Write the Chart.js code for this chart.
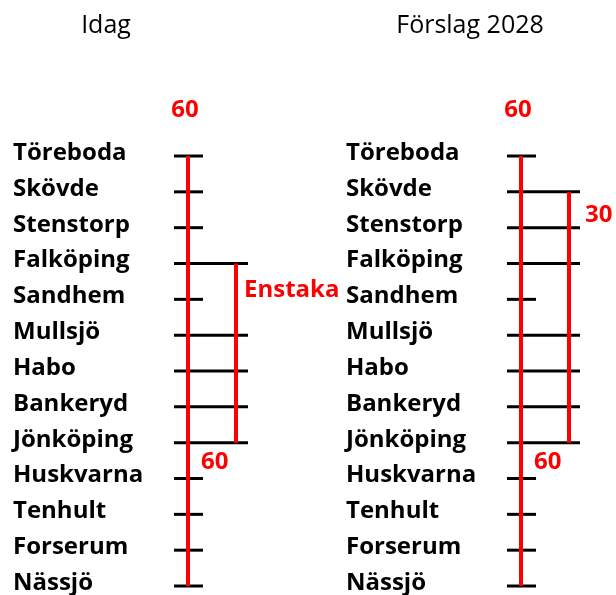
<!DOCTYPE html>
<html>
<head>
<meta charset="utf-8">
<script src="https://cdn.jsdelivr.net/npm/chart.js@4/dist/chart.umd.min.js"></script>
<style>
  html, body { margin: 0; padding: 0; background: #fff; }
  canvas { display: block; }
</style>
</head>
<body>
<canvas id="lineChart" width="616" height="595"></canvas>
<script>
// Stationer längs banan (uppifrån och ned)
const STATIONS = ['Töreboda', 'Skövde', 'Stenstorp', 'Falköping', 'Sandhem', 'Mullsjö', 'Habo',
  'Bankeryd', 'Jönköping', 'Huskvarna', 'Tenhult', 'Forserum', 'Nässjö'];

// Panelrubriker
const PANEL_TITLES = ['Idag', 'Förslag 2028'];

// Grundtrafik (hela sträckan) och extratrafik per panel
const BASE_FREQ = ['60', '60'];
const EXTRA_FREQ = ['Enstaka', '30'];
const EXTRA_FROM = ['Falköping', 'Skövde'];
const EXTRA_TO = ['Jönköping', 'Jönköping'];

// Uppehåll för extratåg (1 = stannar)
const EXTRA_STOPS_IDAG    = [0, 0, 0, 1, 0, 1, 1, 1, 1, 0, 0, 0, 0];
const EXTRA_STOPS_FORSLAG = [0, 1, 1, 1, 0, 1, 1, 1, 1, 0, 0, 0, 0];
const EXTRA_STOPS = [EXTRA_STOPS_IDAG, EXTRA_STOPS_FORSLAG];

// ---- layout (x i px-enheter, y i stationsindex) ----
const PANEL = [
  { labelX: 13,  trackX: 188, extraX: 236, shortL: 174, shortR: 203, longR: 248, titleX: 106 },
  { labelX: 346, trackX: 521, extraX: 569, shortL: 507, shortR: 536, longR: 580, titleX: 470 }
];
const Y_MIN = -4.354, Y_MAX = 12.251;
const RED = '#ff0000';

function seg(x1, x2, y1, y2, color, width) {
  return {
    type: 'line',
    data: [{ x: x1, y: y1 }, { x: x2, y: y2 }],
    borderColor: color,
    borderWidth: width,
    pointRadius: 0,
    borderCapStyle: 'butt',
    order: color === RED ? 1 : 2
  };
}

const datasets = [];
PANEL.forEach((p, k) => {
  // huvudspår
  datasets.push(seg(p.trackX, p.trackX, 0, STATIONS.length - 1, RED, 4));
  // extraspår
  const a = STATIONS.indexOf(EXTRA_FROM[k]);
  const b = STATIONS.indexOf(EXTRA_TO[k]);
  datasets.push(seg(p.extraX, p.extraX, a, b, RED, 4));
  // stationsstreck
  STATIONS.forEach((s, i) => {
    const right = EXTRA_STOPS[k][i] ? p.longR : p.shortR;
    datasets.push(seg(p.shortL, right, i, i, '#000000', 3));
  });
});

// text: rubriker, stationsnamn och frekvenser
const textPlugin = {
  id: 'diagramText',
  afterDatasetsDraw(chart) {
    const { ctx, scales: { x, y } } = chart;
    ctx.save();
    ctx.textBaseline = 'middle';
    PANEL.forEach((p, k) => {
      ctx.fillStyle = '#000';
      ctx.font = '25px "Open Sans", sans-serif';
      ctx.textAlign = 'center';
      ctx.fillText(PANEL_TITLES[k], x.getPixelForValue(p.titleX), y.getPixelForValue(-3.62));

      ctx.font = 'bold 24px "Open Sans", sans-serif';
      ctx.textAlign = 'left';
      STATIONS.forEach((s, i) => {
        ctx.fillText(s, x.getPixelForValue(p.labelX), y.getPixelForValue(i) - 3);
      });

      ctx.fillStyle = RED;
      ctx.font = 'bold 24px "Open Sans", sans-serif';
      ctx.textAlign = 'center';
      ctx.fillText(BASE_FREQ[k], x.getPixelForValue(p.trackX - 3), y.getPixelForValue(-1.28));
      ctx.textAlign = 'left';
      ctx.fillText(BASE_FREQ[k], x.getPixelForValue(p.trackX + 13), y.getPixelForValue(8.54));
      const a = STATIONS.indexOf(EXTRA_FREQ[k] === '30' ? EXTRA_FROM[k] : EXTRA_FROM[k]);
      if (k === 0) {
        ctx.fillText(EXTRA_FREQ[k], x.getPixelForValue(p.extraX + 8), y.getPixelForValue(a + 0.74));
      } else {
        ctx.fillText(EXTRA_FREQ[k], x.getPixelForValue(p.longR + 5), y.getPixelForValue(a + 0.66));
      }
    });
    ctx.restore();
  }
};

new Chart(document.getElementById('lineChart'), {
  type: 'line',
  data: { datasets },
  options: {
    responsive: false,
    animation: false,
    layout: { padding: 0 },
    plugins: { legend: { display: false }, tooltip: { enabled: false } },
    scales: {
      x: { type: 'linear', min: 0, max: 616, display: false },
      y: { type: 'linear', min: Y_MIN, max: Y_MAX, reverse: true, display: false }
    }
  },
  plugins: [textPlugin]
});
</script>
</body>
</html>
